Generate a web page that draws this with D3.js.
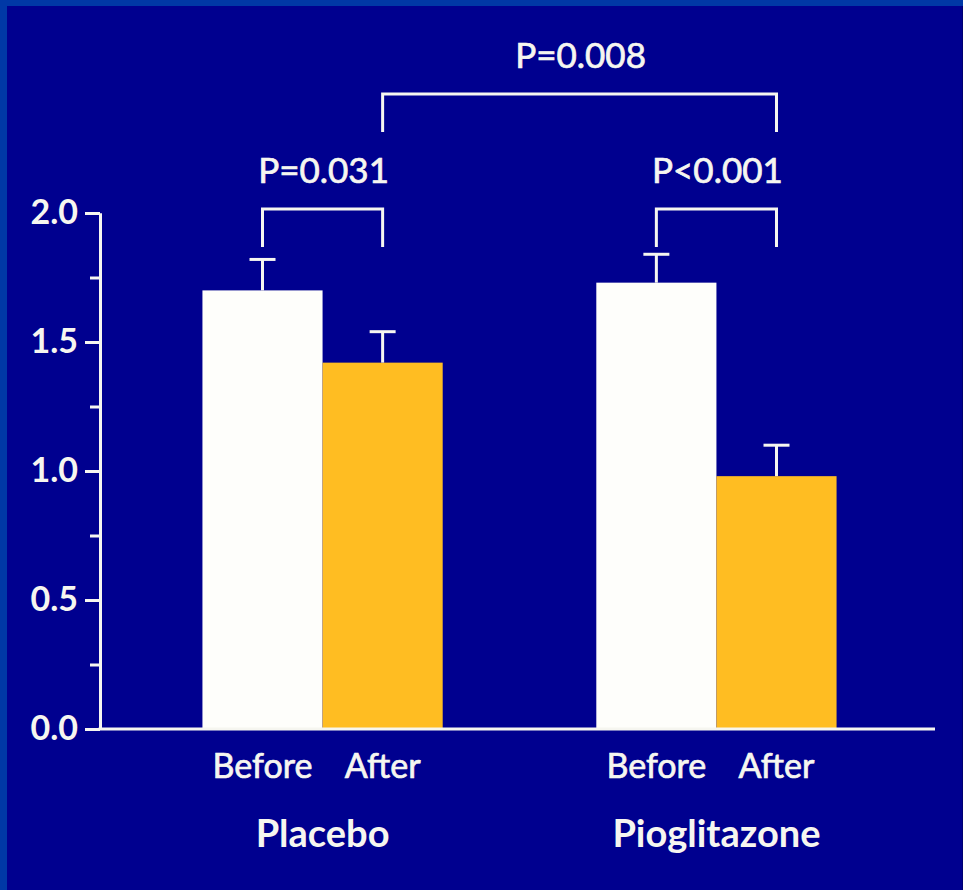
<!DOCTYPE html>
<html>
<head>
<meta charset="utf-8">
<script src="https://cdn.jsdelivr.net/npm/d3@7"></script>
<style>
  html, body { margin: 0; padding: 0; background: #00008f; }
  svg { display: block; }
  text { font-family: Lato, "Open Sans", sans-serif; fill: #f6f6f0; }
</style>
</head>
<body>
<svg id="chart" width="963" height="890"></svg>
<script>
// Treatment groups and measurement phases
const groups = ["Placebo", "Pioglitazone"];
const phases = ["Before", "After"];

// Mean values per group, in phase order
const placeboValues = [1.70, 1.42];
const pioglitazoneValues = [1.73, 0.98];

// Standard errors per group, in phase order
const placeboErrors = [0.12, 0.12];
const pioglitazoneErrors = [0.11, 0.12];

// Y axis ticks
const majorTicks = [0, 0.5, 1.0, 1.5, 2.0];
const minorTicks = [0.25, 0.75, 1.25, 1.75];
const tickLabels = ["0.0", "0.5", "1.0", "1.5", "2.0"];

// Significance comparisons: [groupA, phaseA], [groupB, phaseB], label, level
const comparisons = [
  { a: ["Placebo", "Before"], b: ["Placebo", "After"], label: "P=0.031", level: 0 },
  { a: ["Pioglitazone", "Before"], b: ["Pioglitazone", "After"], label: "P<0.001", level: 0 },
  { a: ["Placebo", "After"], b: ["Pioglitazone", "After"], label: "P=0.008", level: 1 }
];

const valuesByGroup = { Placebo: placeboValues, Pioglitazone: pioglitazoneValues };
const errorsByGroup = { Placebo: placeboErrors, Pioglitazone: pioglitazoneErrors };

const rows = [];
groups.forEach(g => phases.forEach((p, i) => {
  rows.push({ group: g, phase: p, value: valuesByGroup[g][i], err: errorsByGroup[g][i] });
}));

const svg = d3.select("#chart");
const W = 963, H = 890;

// Frame: lighter blue band along top and left edges
svg.append("rect").attr("width", W).attr("height", H).attr("fill", "#0038a6");
svg.append("rect").attr("x", 7).attr("y", 6).attr("width", W - 8).attr("height", H - 6).attr("fill", "#00008f");
svg.append("rect").attr("x", W - 1).attr("y", 6).attr("width", 1).attr("height", H).attr("fill", "#000070");

const plotLeft = 100, plotRight = 935, plotBottom = 729, plotTop = 213;
const y = d3.scaleLinear().domain([0, 2]).range([plotBottom, plotTop]);
const x0 = d3.scaleBand().domain(groups).range([plotLeft + 2, plotRight + 2]).paddingInner(0.39).paddingOuter(0.255);
const x1 = d3.scaleBand().domain(phases).range([0, x0.bandwidth()]).padding(0);

const barColor = { Before: "#fefefb", After: "#ffbd22" };
const ink = "#f6f6f0";

// Bars
svg.append("g").selectAll("rect").data(rows).join("rect")
  .attr("x", d => x0(d.group) + x1(d.phase))
  .attr("y", d => y(d.value))
  .attr("width", x1.bandwidth())
  .attr("height", d => y(0) - y(d.value))
  .attr("fill", d => barColor[d.phase]);

// Error bars (upper only)
const cx = (g, p) => x0(g) + x1(p) + x1.bandwidth() / 2;
const eb = svg.append("g").attr("stroke", ink).attr("stroke-width", 3);
rows.forEach(d => {
  const c = cx(d.group, d.phase);
  eb.append("line").attr("x1", c).attr("x2", c).attr("y1", y(d.value)).attr("y2", y(d.value + d.err));
  eb.append("line").attr("x1", c - 13).attr("x2", c + 13).attr("y1", y(d.value + d.err)).attr("y2", y(d.value + d.err));
});

// Y axis: minor ticks, then major ticks with labels
const yMinor = svg.append("g").attr("transform", `translate(${plotLeft},0)`)
  .call(d3.axisLeft(y).tickValues(minorTicks).tickSize(10).tickSizeOuter(0).tickFormat(""));
const yMajor = svg.append("g").attr("transform", `translate(${plotLeft},0)`)
  .call(d3.axisLeft(y).tickValues(majorTicks).tickSize(15).tickSizeOuter(0).tickPadding(7)
    .tickFormat((d, i) => tickLabels[i]));
[yMinor, yMajor].forEach(a => {
  a.selectAll("path, line").attr("stroke", ink).attr("stroke-width", 3);
});
yMajor.selectAll("text")
  .attr("font-size", 34).attr("font-weight", 700)
  .style("font-family", "Lato, sans-serif").attr("fill", ink);

// X axis baseline
svg.append("line").attr("x1", plotLeft - 1.5).attr("x2", plotRight).attr("y1", plotBottom).attr("y2", plotBottom)
  .attr("stroke", ink).attr("stroke-width", 3);

// Phase labels beneath each bar
svg.append("g").selectAll("text").data(rows).join("text")
  .attr("x", d => cx(d.group, d.phase))
  .attr("y", 778)
  .attr("text-anchor", "middle")
  .attr("font-size", 34)
  .attr("stroke", ink).attr("stroke-width", 0.7)
  .text(d => d.phase);

// Group labels
svg.append("g").selectAll("text").data(groups).join("text")
  .attr("x", g => x0(g) + x0.bandwidth() / 2)
  .attr("y", 847)
  .attr("text-anchor", "middle")
  .attr("font-size", 38)
  .attr("font-weight", 700)
  .text(g => g);

// Significance brackets
const levelTop = [209, 94];
const legDrop = 38;
const br = svg.append("g");
comparisons.forEach(c => {
  const xa = cx(c.a[0], c.a[1]);
  const xb = cx(c.b[0], c.b[1]);
  const t = levelTop[c.level];
  br.append("path")
    .attr("d", `M${xa},${t + legDrop}V${t}H${xb}V${t + legDrop}`)
    .attr("fill", "none").attr("stroke", ink).attr("stroke-width", 3);
  br.append("text")
    .attr("x", (xa + xb) / 2 + 1)
    .attr("y", t - 26)
    .attr("text-anchor", "middle")
    .attr("font-size", 35)
    .attr("stroke", ink).attr("stroke-width", 0.7)
    .text(c.label);
});
</script>
</body>
</html>
